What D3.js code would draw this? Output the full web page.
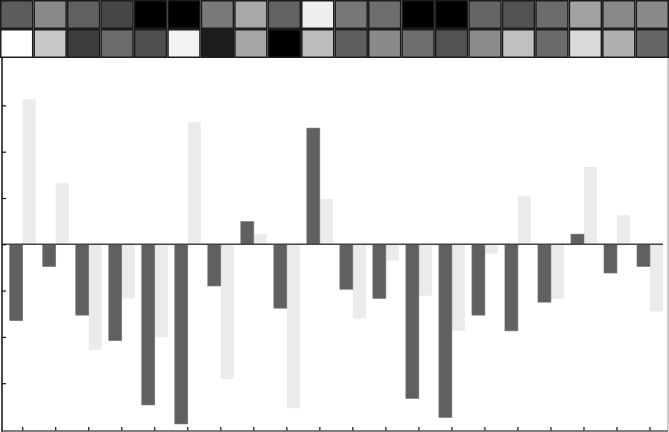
<!DOCTYPE html>
<html>
<head>
<meta charset="utf-8">
<script src="https://cdn.jsdelivr.net/npm/d3@7"></script>
<style>
  html, body { margin: 0; padding: 0; background: #fff; }
  svg { display: block; }
</style>
</head>
<body>
<svg id="chart" width="669" height="432"></svg>
<script>
// ---- data ----
const categories = ["1","2","3","4","5","6","7","8","9","10","11","12","13","14","15","16","17","18","19","20"];
const seriesA = [-1.65, -0.48, -1.53, -2.08, -3.47, -3.88, -0.90, 0.49, -1.38, 2.51, -0.97, -1.17, -3.33, -3.74, -1.53, -1.87, -1.25, 0.22, -0.62, -0.48];
const seriesB = [3.13, 1.32, -2.28, -1.17, -2.01, 2.64, -2.91, 0.22, -3.54, 0.98, -1.60, -0.35, -1.11, -1.87, -0.20, 1.04, -1.18, 1.67, 0.63, -1.45];
const heatRow1 = [92, 138, 96, 70, 0, 0, 122, 168, 99, 239, 119, 110, 0, 0, 101, 82, 108, 162, 136, 138];
const heatRow2 = [255, 200, 60, 108, 78, 242, 30, 166, 0, 189, 94, 138, 110, 82, 140, 192, 106, 218, 176, 102];
const yTicks = [-3, -2, -1, 0, 1, 2, 3];

// ---- layout ----
const W = 669, H = 432;
const heatTop = 0, heatBottom = 58;
const plotLeft = 2, plotRight = 668, plotTop = 58, plotBottom = 431;

const svg = d3.select("#chart");

// heatmap
const hx = d3.scaleBand().domain(categories).range([0, W]);
const hy = d3.scaleBand().domain(["r1","r2"]).range([heatTop, heatBottom]);
const heatRows = [{k:"r1", v:heatRow1}, {k:"r2", v:heatRow2}];
heatRows.forEach(row => {
  svg.append("g").selectAll("rect").data(row.v).join("rect")
    .attr("x", (d,i) => hx(categories[i]) + 0.75)
    .attr("y", hy(row.k) + 0.75)
    .attr("width", hx.bandwidth() - 1.5)
    .attr("height", hy.bandwidth() - 1.5)
    .attr("fill", d => d3.rgb(d,d,d))
    .attr("stroke", "#1c1c1c")
    .attr("stroke-width", 1.5);
});

// bar chart scales
const x = d3.scaleBand().domain(categories).range([6.2, 666.5]);
const y = d3.scaleLinear().domain([-4, 4]).range([429.5, 59.1]);
const barW = 13;
const center = c => x(c) + x.bandwidth() / 2;

// bars
svg.append("g").selectAll("rect").data(seriesB).join("rect")
  .attr("x", (d,i) => center(categories[i]))
  .attr("y", d => y(Math.max(0, d)))
  .attr("width", barW)
  .attr("height", d => Math.abs(y(d) - y(0)))
  .attr("fill", "#ebebeb");

svg.append("g").selectAll("rect").data(seriesA).join("rect")
  .attr("x", (d,i) => center(categories[i]) - barW)
  .attr("y", d => y(Math.max(0, d)))
  .attr("width", barW)
  .attr("height", d => Math.abs(y(d) - y(0)))
  .attr("fill", "#606060")
  .attr("stroke", "#777")
  .attr("stroke-width", 0.6);

// zero line
svg.append("line")
  .attr("x1", plotLeft).attr("x2", 663)
  .attr("y1", y(0)).attr("y2", y(0))
  .attr("stroke", "#444").attr("stroke-width", 1.5);

// frame
svg.append("line").attr("x1", plotRight).attr("x2", plotRight)
  .attr("y1", plotTop).attr("y2", plotBottom)
  .attr("stroke", "#aaa").attr("stroke-width", 1.2);

// left axis
const yAxis = d3.axisRight(y).tickValues(yTicks).tickSize(4).tickFormat("");
const gy = svg.append("g").attr("transform", `translate(${plotLeft},0)`).call(yAxis);
gy.select(".domain").remove();
gy.selectAll(".tick line").attr("stroke", "#111").attr("stroke-width", 1.2);
svg.append("line").attr("x1", plotLeft).attr("x2", plotLeft)
  .attr("y1", plotTop).attr("y2", plotBottom + 1)
  .attr("stroke", "#111").attr("stroke-width", 1.5);

// bottom axis
const xAxis = d3.axisTop(x).tickSize(4).tickFormat("");
const gx = svg.append("g").attr("transform", `translate(0,${plotBottom})`).call(xAxis);
gx.select(".domain").remove();
gx.selectAll(".tick line").attr("stroke", "#111").attr("stroke-width", 1.2);
svg.append("line").attr("x1", plotLeft).attr("x2", plotRight)
  .attr("y1", plotBottom).attr("y2", plotBottom)
  .attr("stroke", "#555").attr("stroke-width", 1.5);
</script>
</body>
</html>
